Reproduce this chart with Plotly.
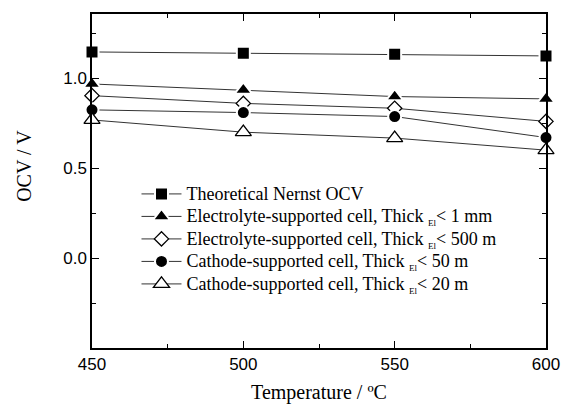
import plotly.graph_objects as go

# Operating temperature (°C)
temperature = [450, 500, 550, 600]

# Open-circuit voltage (V) for each cell type
nernst_ocv = [1.146, 1.139, 1.133, 1.124]
electrolyte_1mm = [0.968, 0.935, 0.898, 0.885]
electrolyte_500 = [0.903, 0.860, 0.833, 0.760]
cathode_50 = [0.824, 0.809, 0.787, 0.670]
cathode_20 = [0.768, 0.700, 0.667, 0.600]

legend_labels = [
    "Theoretical Nernst OCV",
    "Electrolyte-supported cell, Thick|&lt; 1 mm",
    "Electrolyte-supported cell, Thick|&lt; 500 m",
    "Cathode-supported cell, Thick|&lt; 50 m",
    "Cathode-supported cell, Thick|&lt; 20 m",
]


def legend_text(label):
    # "|" marks where the small "El" subscript goes
    sub = "&nbsp;<sub><span style='font-size:9px'>El</span></sub>"
    return "<span style='font-size:18px'>" + label.replace("|", sub) + "</span>"


series_values = [nernst_ocv, electrolyte_1mm, electrolyte_500, cathode_50, cathode_20]
symbols = ["square", "triangle-up", "diamond", "circle", "triangle-up"]
filled = [True, True, False, True, False]
sizes = [13, 15, 11, 13, 14]

fig = go.Figure()
for label, vals, sym, fill, sz in zip(legend_labels, series_values, symbols, filled, sizes):
    if fill:
        marker = dict(symbol=sym, size=sz, color="black",
                      line=dict(color="white", width=2))
    else:
        marker = dict(symbol=sym, size=sz, color="white",
                      line=dict(color="black", width=1.3))
    fig.add_trace(go.Scatter(
        x=temperature, y=vals, name=legend_text(label), mode="lines+markers",
        line=dict(color="#333333", width=1),
        marker=marker, cliponaxis=False,
    ))

axis_common = dict(
    showline=True, linecolor="black", linewidth=1.5, mirror="ticks",
    ticks="inside", ticklen=7, tickwidth=1.2, tickcolor="black",
    showgrid=False, zeroline=False, automargin=False,
    tickfont=dict(family="Liberation Sans, Arial", size=17, color="black"),
)

fig.update_xaxes(
    range=[450, 600], tickvals=[450, 500, 550, 600],
    minor=dict(tickvals=[475, 525, 575], ticks="inside", ticklen=4,
               tickcolor="black", tickwidth=1.2),
    title=dict(text="Temperature / ºC", standoff=12,
               font=dict(family="Liberation Serif, Times New Roman", size=20, color="black")),
    **axis_common,
)
fig.update_yaxes(
    range=[-0.5, 1.357], tickvals=[0.0, 0.5, 1.0], tickformat=".1f",
    minor=dict(tickvals=[-0.25, 0.25, 0.75, 1.25], ticks="inside", ticklen=4,
               tickcolor="black", tickwidth=1.2),
    **axis_common,
)

# y-axis title, set slightly above the middle of the axis
fig.add_annotation(
    text="OCV / V", textangle=-90, showarrow=False,
    xref="paper", yref="paper", x=-0.15, y=0.545,
    xanchor="center", yanchor="middle",
    font=dict(family="Liberation Serif, Times New Roman", size=20, color="black"),
)

fig.update_layout(
    width=572, height=408,
    margin=dict(l=92, r=26, t=14, b=60),
    paper_bgcolor="white", plot_bgcolor="white",
    legend=dict(
        x=0.098, y=0.51, xanchor="left", yanchor="top",
        bgcolor="rgba(0,0,0,0)", borderwidth=0,
        font=dict(family="Liberation Serif, Times New Roman", size=15, color="black"),
        itemwidth=40, tracegroupgap=0,
    ),
    showlegend=True,
)

fig.write_html("out.html")
